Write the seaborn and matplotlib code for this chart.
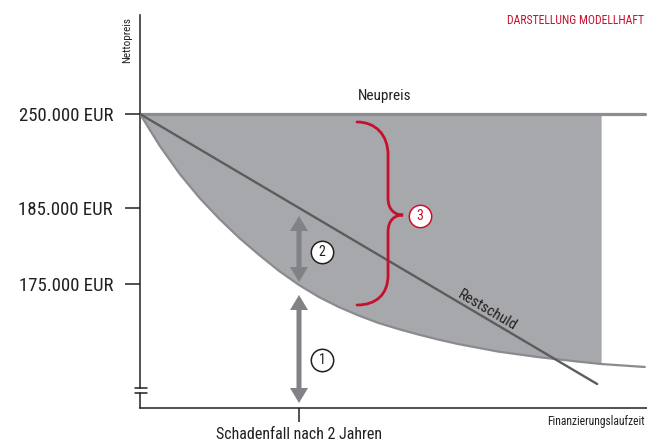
import numpy as np
import pandas as pd
import matplotlib
matplotlib.use("Agg")
import matplotlib.pyplot as plt
import matplotlib.font_manager as fm
from matplotlib.path import Path
from matplotlib.patches import PathPatch
import seaborn as sns

# schematic data (x = years, y = schematic height above the axis)
years_value = [0, 0.25, 0.5, 0.75, 1.0, 1.25, 1.5, 1.75, 2.0, 2.25, 2.5, 2.75,
               3.0, 3.25, 3.5, 3.75, 4.0, 4.5, 5.0, 5.5, 5.8, 6.35]
value_curve = [294, 262, 234, 210, 189, 170, 153, 137, 123, 111, 101, 92.5,
               85, 79, 73.5, 68.5, 64, 56.5, 51, 46.5, 44, 41]
years_debt = [0, 5.75]
debt_line = [294, 24]
years_new = [0, 6.35]
new_price = [294, 294]
fill_end = 5.8

ytick_pos = [294, 200, 124]
ytick_labels = ["250.000 EUR", "185.000 EUR", "175.000 EUR"]
xtick_pos = [2]
xtick_labels = ["Schadenfall nach 2 Jahren"]

sns.set_style("white")
names = {f.name for f in fm.fontManager.ttflist}
font = "DejaVu Sans"
for cand in ["Roboto Condensed", "Liberation Sans Narrow", "DejaVu Sans Condensed", "Roboto"]:
    if cand in names:
        font = cand
        break
plt.rcParams["font.family"] = [font, "DejaVu Sans"]

RED = "#c8102e"
FILL = "#a7a8ab"
DARK = "#231f20"

fig = plt.figure(figsize=(6.47, 4.43), dpi=100)
ax = fig.add_axes([140 / 647, 35 / 443, 507 / 647, 393 / 443])

df_val = pd.DataFrame({"Jahre": years_value, "Wert": value_curve})
df_debt = pd.DataFrame({"Jahre": years_debt, "Wert": debt_line})
df_new = pd.DataFrame({"Jahre": years_new, "Wert": new_price})

sel = df_val[df_val["Jahre"] <= fill_end]
ax.fill_between(sel["Jahre"], sel["Wert"], new_price[0], color=FILL, lw=0, zorder=1)

sns.lineplot(data=df_new, x="Jahre", y="Wert", ax=ax, color="#8c8d90", lw=2.3, zorder=3)
sns.lineplot(data=df_val, x="Jahre", y="Wert", ax=ax, color="#8a8b8e", lw=1.6, zorder=3)
sns.lineplot(data=df_debt, x="Jahre", y="Wert", ax=ax, color="#5b5c5e", lw=1.7, zorder=4)

ax.set_xlim(0, 507 / 79.5)
ax.set_ylim(0, 393)
ax.set_xlabel("")
ax.set_ylabel("")

# axes and ticks
for s in ["top", "right"]:
    ax.spines[s].set_visible(False)
for s in ["left", "bottom"]:
    ax.spines[s].set_color(DARK)
    ax.spines[s].set_linewidth(1.1)
ax.spines["left"].set_bounds(20, 393)
yt = ax.get_yaxis_transform()
ax.plot([0, 0], [0, 15], color=DARK, lw=1.1, transform=yt, clip_on=False)
for yb in [15, 20]:
    ax.plot([-5 / 507, 7 / 507], [yb, yb], color=DARK, lw=1.1, transform=yt, clip_on=False)

ax.set_yticks(ytick_pos, ytick_labels)
ax.set_xticks(xtick_pos, xtick_labels)
ax.tick_params(axis="y", direction="out", length=11, width=1.1, color=DARK, pad=8.5,
               labelsize=13.5, labelcolor=DARK, left=True)
ax.tick_params(axis="x", direction="out", length=10, width=1.1, color=DARK, pad=3.5,
               labelsize=11.5, labelcolor=DARK, bottom=True)

# arrows
GREY_A = "#808285"
def double_arrow(x, y0, y1):
    mid = (y0 + y1) / 2
    for end in (y0, y1):
        ax.arrow(x, mid, 0, end - mid, width=5 / 79.5, head_width=18 / 79.5,
                 head_length=15, length_includes_head=True, color=GREY_A, lw=0, zorder=5)

double_arrow(2.0, 192, 126)
double_arrow(2.0, 113, 5)

# numbered circles
def badge(x, y, txt, col):
    ax.scatter([x], [y], s=260, facecolor="white", edgecolor=col, lw=1.1, zorder=6)
    ax.text(x, y, txt, ha="center", va="center", fontsize=10, color=col, zorder=7)

badge(2.29, 48, "1", DARK)
badge(2.29, 156, "2", DARK)
badge(3.52, 192, "3", RED)

# red brace
def brace(x0, xs, xt, ytop, ybot, ytip):
    verts = [(x0, ytop),
             (x0 + 0.6 * (xs - x0), ytop), (xs, ytop - 13), (xs, ytop - 33),
             (xs, ytip + 17),
             (xs, ytip + 5), (xs + 0.45 * (xt - xs), ytip), (xt, ytip),
             (xs + 0.45 * (xt - xs), ytip), (xs, ytip - 5), (xs, ytip - 17),
             (xs, ybot + 30),
             (xs, ybot + 10), (x0 + 0.6 * (xs - x0), ybot), (x0, ybot)]
    codes = ([Path.MOVETO] + [Path.CURVE4] * 3 + [Path.LINETO] + [Path.CURVE4] * 6
             + [Path.LINETO] + [Path.CURVE4] * 3)
    ax.add_patch(PathPatch(Path(verts, codes), fill=False, ec=RED, lw=2.0, zorder=5,
                           capstyle="round"))

brace(2.73, 3.12, 3.31, 286, 103, 193)

# labels
ax.text(3.08, 312, "Neupreis", ha="center", va="center", fontsize=11, color=DARK)
ax.text(4.37, 98, "Restschuld", ha="center", va="center", fontsize=11, color=DARK,
        rotation=-30.6, rotation_mode="anchor")
fig.text(127 / 647, 1 - 40 / 443, "Nettopreis", rotation=90, ha="center", va="center",
         fontsize=8, color=DARK)
fig.text(644 / 647, 1 - 20 / 443, "DARSTELLUNG MODELLHAFT", ha="right", va="center",
         fontsize=8.5, color=RED)
fig.text(645 / 647, 1 - 422 / 443, "Finanzierungslaufzeit", ha="right", va="center",
         fontsize=8.3, color=DARK)

fig.savefig("out.png", dpi=100)
